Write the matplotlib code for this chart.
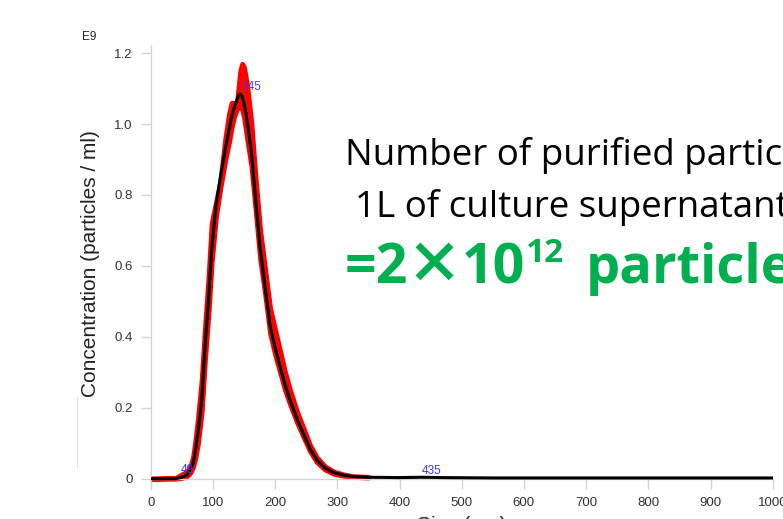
import matplotlib
matplotlib.use("Agg")
import matplotlib.pyplot as plt
from matplotlib.lines import Line2D

# size distribution (nm) and concentration (E9 particles / ml)
size_nm = [0, 40, 50, 58, 64, 68, 72, 76, 82, 87,
           93, 98, 105, 112, 120, 126, 130, 134, 138, 141,
           144, 147, 150, 155, 162, 168, 176, 184, 192, 200,
           208, 216, 224, 235, 245, 256, 267, 280, 294, 310,
           325, 350, 400, 435, 470, 550, 700, 850, 1000]
conc_mean = [0, 0, 0.004, 0.01, 0.025, 0.043, 0.08, 0.128, 0.222, 0.364,
             0.505, 0.646, 0.77, 0.85, 0.93, 0.985, 1.02, 1.045, 1.065, 1.08,
             1.085, 1.078, 1.06, 1.01, 0.92, 0.80, 0.65, 0.54, 0.43, 0.37,
             0.316, 0.265, 0.222, 0.17, 0.128, 0.085, 0.053, 0.03, 0.017, 0.01,
             0.006, 0.004, 0.003, 0.004, 0.003, 0.002, 0.002, 0.002, 0.002]

# red error band (replicates), up to 350 nm
band_size = size_nm[:42]
conc_upper = [0, 0.002, 0.012, 0.02, 0.035, 0.06, 0.11, 0.17, 0.28, 0.42,
              0.57, 0.72, 0.78, 0.84, 0.96, 1.03, 1.06, 1.06, 1.05, 1.10,
              1.15, 1.17, 1.16, 1.11, 1.0, 0.86, 0.70, 0.59, 0.48, 0.42,
              0.36, 0.30, 0.25, 0.19, 0.145, 0.095, 0.06, 0.035, 0.02, 0.012,
              0.007, 0.005]
conc_lower = [0, 0, 0.002, 0.006, 0.018, 0.033, 0.06, 0.10, 0.19, 0.33,
              0.47, 0.61, 0.74, 0.82, 0.90, 0.95, 0.99, 1.02, 1.04, 1.05,
              1.05, 1.04, 1.02, 0.96, 0.88, 0.77, 0.62, 0.52, 0.41, 0.35,
              0.30, 0.25, 0.21, 0.16, 0.12, 0.078, 0.047, 0.026, 0.014, 0.008,
              0.005, 0.003]

peak_labels = ["49", "145", "435"]
peak_x = [49, 145, 435]
peak_y = [0.025, 1.105, 0.022]

yticks = [0, 0.2, 0.4, 0.6, 0.8, 1.0, 1.2]
ytick_labels = ["0", "0.2", "0.4", "0.6", "0.8", "1.0", "1.2"]
xticks = [0, 100, 200, 300, 400, 500, 600, 700, 800, 900, 1000]

W, H = 783, 519
plt.rcParams['font.family'] = ['Liberation Sans', 'DejaVu Sans']
fig = plt.figure(figsize=(W / 100, H / 100), dpi=100)

ax = fig.add_axes([150.7 / W, (H - 489.3) / H, 622 / W, (489.3 - 45) / H])
grey = '#d4d4d4'

ax.fill_between(band_size, conc_lower, conc_upper, color='#ff0000', lw=3.5,
                edgecolor='#ff0000', zorder=2)
ax.plot(size_nm, conc_mean, color='black', lw=2.2, zorder=3,
        solid_capstyle='round')

for lab, px, py in zip(peak_labels, peak_x, peak_y):
    ax.text(px, py, lab, color='#3a3aff', fontsize=8.5, ha='left', va='center',
            zorder=4)

ax.set_xlim(0, 1000)
ax.set_ylim(-0.03, 1.223)
ax.spines['top'].set_visible(False)
ax.spines['right'].set_visible(False)
ax.spines['bottom'].set_position(('data', 0))
for s in ('left', 'bottom'):
    ax.spines[s].set_color(grey)
    ax.spines[s].set_linewidth(1)
ax.set_yticks(yticks)
ax.set_yticklabels(ytick_labels)
ax.set_xticks(xticks)
ax.tick_params(axis='both', colors=grey, labelcolor='#333333', labelsize=9.5,
               length=7, width=1)
ax.tick_params(axis='y', pad=6)
ax.tick_params(axis='x', pad=6)

fig.text(91 / W, 1 - 264 / H, "Concentration (particles / ml)", rotation=90,
         fontsize=15, ha='center', va='center', color='#222222')
fig.text(82 / W, 1 - 37 / H, "E9", fontsize=8.5, ha='left', va='center',
         color='#222222')
fig.text(462 / W, 1 - 516 / H, "Size (nm)", fontsize=15, ha='center',
         va='top', color='#222222')

fig.add_artist(Line2D([77 / W, 77 / W], [1 - 397 / H, 1 - 467 / H],
                      color='#e2e2e2', lw=0.8))

# slide text on the right
fig.text(345 / W, 1 - 165 / H, "Number of purified particles from",
         fontsize=26.5, family='Open Sans', color='black', va='baseline')
fig.text(355 / W, 1 - 217 / H, "1L of culture supernatant",
         fontsize=26.5, family='Open Sans', color='black', va='baseline')
green = '#00b050'
base = 1 - 283 / H
fig.text(345 / W, base, "=2", fontsize=40, family='Open Sans',
         weight='bold', color=green, va='baseline')
fig.text(434 / W, 1 - 266.5 / H, "\u00d7", fontsize=41,
         family=['Noto Sans CJK JP', 'DejaVu Sans'], weight='heavy',
         color=green, va='center', ha='center')
fig.text(462 / W, base, "10", fontsize=40, family='Open Sans',
         weight='bold', color=green, va='baseline')
fig.text(526 / W, 1 - 262 / H, "12", fontsize=24, family='Open Sans',
         weight='bold', color=green, va='baseline')
fig.text(586 / W, base, "particles", fontsize=39, family='Open Sans',
         weight='bold', color=green, va='baseline')

fig.savefig("out.png", dpi=100)
